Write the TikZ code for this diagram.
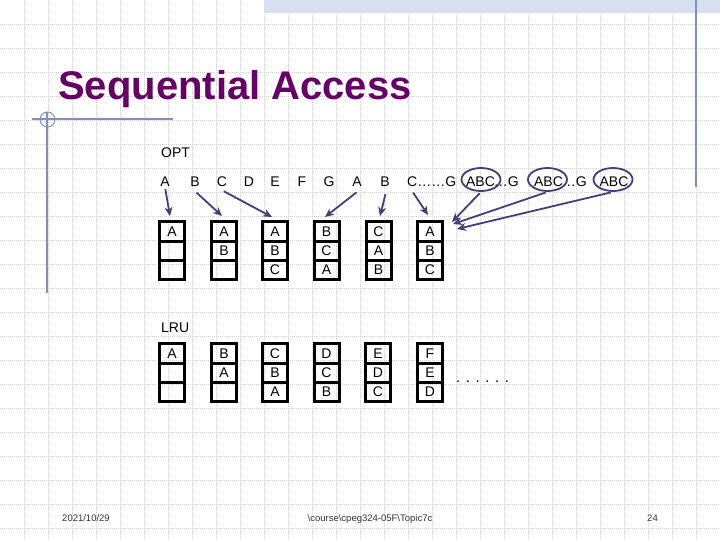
\documentclass[tikz,border=0pt]{standalone}
\usepackage{fontspec}
\setmainfont{Liberation Sans}
\usetikzlibrary{arrows.meta,calc,shapes.geometric}
\definecolor{ttl}{RGB}{102,0,102}
\definecolor{arrc}{RGB}{64,64,120}
\definecolor{deco}{RGB}{128,144,184}
\definecolor{gridc}{RGB}{208,208,208}
\definecolor{band}{RGB}{214,224,240}
\newcommand{\membox}[6]{%
  \node[cell] (#1a) at (#2,#3) {#4};
  \node[cell] (#1b) at (#2,#3+19.2) {#5};
  \node[cell] (#1c) at (#2,#3+38.4) {#6};}
\begin{document}
\begin{tikzpicture}[x=1pt,y=-1pt,
  txt/.style={font=\fontsize{14}{16}\selectfont, inner sep=0pt, anchor=base},
  cell/.style={draw=black, line width=3pt, minimum width=25pt, minimum height=19.2pt, inner sep=0pt, font=\fontsize{14}{16}\selectfont, text height=10pt, text depth=0pt},
  conn/.style={draw=arrc, line width=1.8pt, shorten <=2pt, -{Stealth[length=9pt,width=8pt]}},
  oval/.style={ellipse, draw=arrc, line width=1.8pt, minimum width=39pt, minimum height=23pt, inner sep=0pt},
  gridl/.style={draw=gridc, line width=0.6pt, dash pattern=on 1pt off 1pt},
  decol/.style={draw=deco, line width=1.2pt},
  foot/.style={font=\fontsize{9.5}{10}\selectfont, text=black!80, inner sep=0pt, anchor=base}
]
\useasboundingbox (0,0) rectangle (720,540);
\fill[white] (0,0) rectangle (720,540);
\foreach \i in {1,...,29} \draw[gridl] (24*\i,0) -- (24*\i,540);
\foreach \j in {1,...,22} \draw[gridl] (0,24*\j) -- (720,24*\j);
\fill[band] (264,0) rectangle (720,13);
% decoration
\draw[decol] (32,119) -- (173,119);
\draw[decol] (47,112) -- (47,293);
\draw[decol, line width=1pt] (47.5,119.5) circle[radius=7.5pt];
\draw[decol] (696,0) -- (696,187);
% title
\node[anchor=base west, inner sep=0pt, text=ttl, font=\fontsize{40}{44}\selectfont\bfseries] (title) at (58,100) {Sequential Access};
% labels
\node[txt, anchor=base west] (opt) at (161,158) {OPT};
\node[txt, anchor=base west] (lru) at (161,332) {LRU};
% reference string
\node[txt] (lA1) at (165,187) {A};
\node[txt] (lB1) at (195,187) {B};
\node[txt] (lC1) at (222,187) {C};
\node[txt] (lD1) at (249,187) {D};
\node[txt] (lE1) at (275,187) {E};
\node[txt] (lF1) at (302,187) {F};
\node[txt] (lG1) at (329,187) {G};
\node[txt] (lA2) at (357,187) {A};
\node[txt] (lB2) at (385,187) {B};
\node[txt, anchor=base west] (cg) at (407,187) {C……G};
\node[txt] (abc1) at (480.5,187) {ABC};
\node[txt, anchor=base east] (dg1) at (519,187) {…G};
\node[txt] (abc2) at (548.5,187) {ABC};
\node[txt, anchor=base east] (dg2) at (587,187) {…G};
\node[txt] (abc3) at (614,187) {ABC};
\node[oval] (e1) at (481,179.5) {};
\node[oval] (e2) at (547.5,179.5) {};
\node[oval] (e3) at (613,179.5) {};
% OPT boxes
\membox{o1}{172}{231.5}{A}{}{}
\membox{o2}{224}{231.5}{A}{B}{}
\membox{o3}{275}{231.5}{A}{B}{C}
\membox{o4}{326.5}{231.5}{B}{C}{A}
\membox{o5}{378.5}{231.5}{C}{A}{B}
\membox{o6}{430}{231.5}{A}{B}{C}
% LRU boxes
\membox{r1}{172}{353.5}{A}{}{}
\membox{r2}{224}{353.5}{B}{A}{}
\membox{r3}{275}{353.5}{C}{B}{A}
\membox{r4}{326.5}{353.5}{D}{C}{B}
\membox{r5}{378}{353.5}{E}{D}{C}
\membox{r6}{430}{353.5}{F}{E}{D}
\node[txt, anchor=base west, font=\fontsize{15}{16}\selectfont] (dots) at (456,382) {. . . . . .};
% arrow targets
\coordinate (t1) at (170,216);
\coordinate (t2) at (222,216);
\coordinate (t3) at (272,217);
\coordinate (t4) at (325,217);
\coordinate (t5) at (380,216);
\coordinate (t6) at (428,215);
\coordinate (t7) at (452,222);
\coordinate (t8) at (453,224);
\coordinate (t9) at (457,229);
\draw[conn] (lA1.south) -- (t1);
\draw[conn] ($(lB1.south)+(0,4)$) -- (t2);
\draw[conn] ($(lC1.south)+(0,3)$) -- (t3);
\draw[conn] ($(lA2.south)+(1,4)$) -- (t4);
\draw[conn] ($(lB2.south)+(1,5)$) -- (t5);
\draw[conn] ($(cg.base west)+(5,4)$) -- (t6);
\draw[conn] (e1.south) -- (t7);
\draw[conn] (e2.south) -- (t8);
\draw[conn] (e3.south) -- (t9);
% footer
\node[foot] (date) at (86,521) {2021/10/29};
\node[foot] (path) at (370,521) {\textbackslash course\textbackslash cpeg324-05F\textbackslash Topic7c};
\node[foot] (page) at (652.5,521) {24};
\end{tikzpicture}
\end{document}
